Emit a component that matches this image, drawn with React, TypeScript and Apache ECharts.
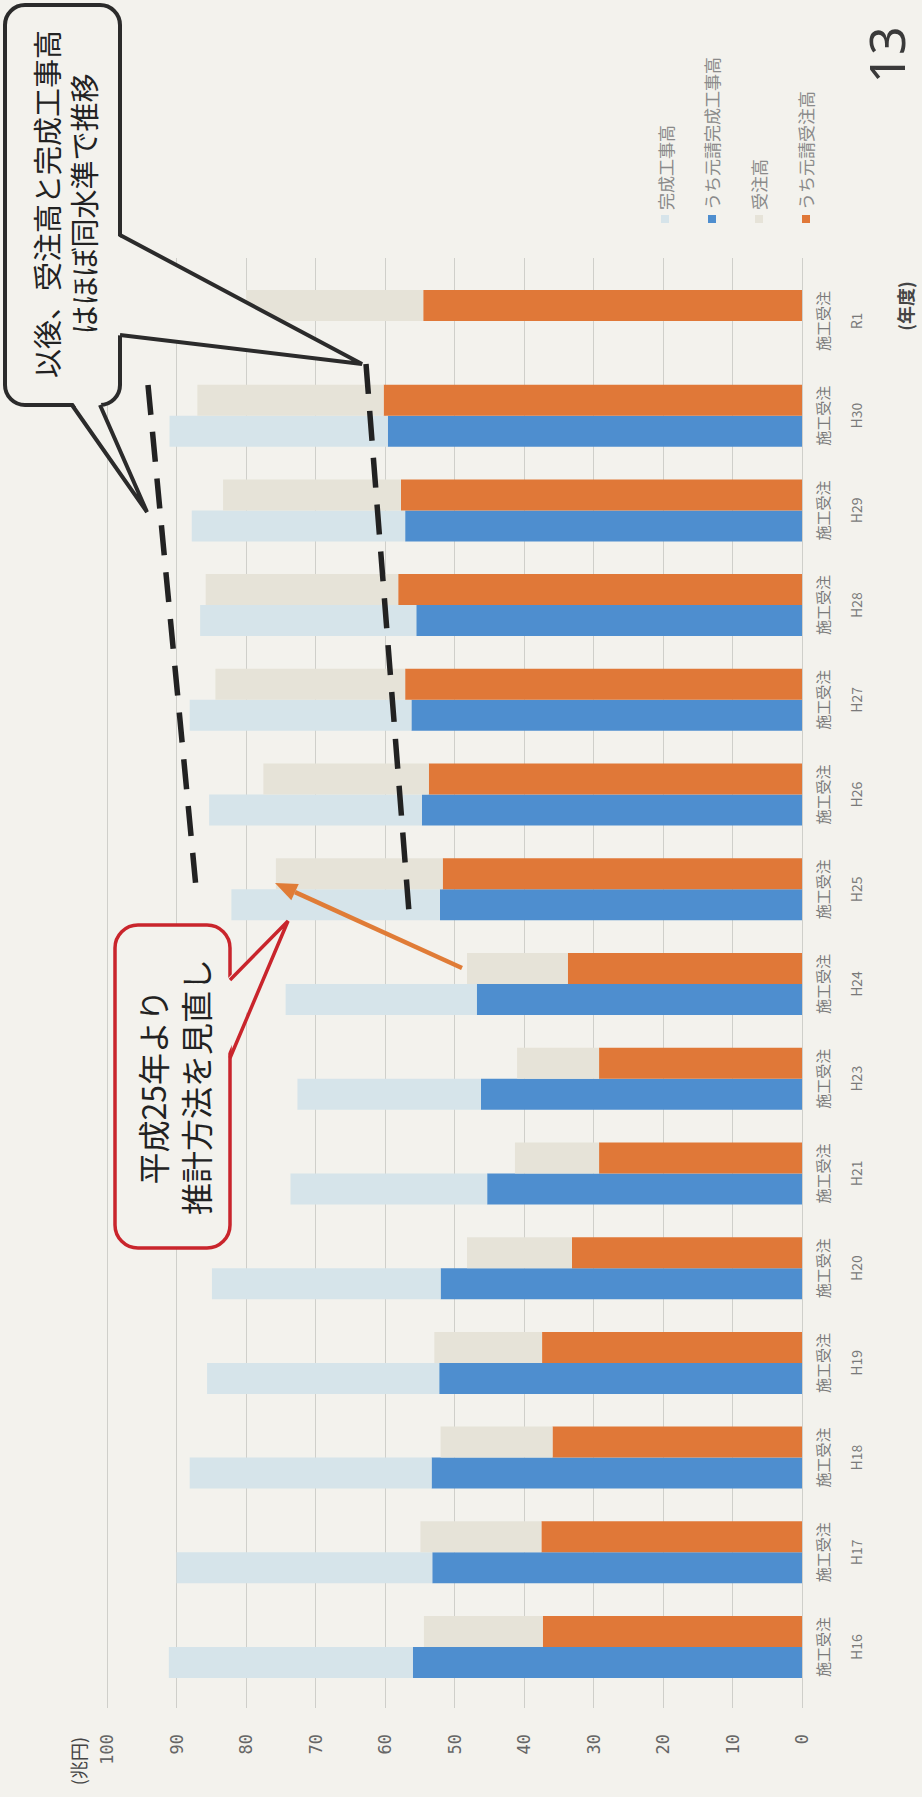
import React, { useEffect, useRef } from 'react';
import * as echarts from 'echarts';

// ---- data ----
const categories = ['H16', 'H17', 'H18', 'H19', 'H20', 'H21', 'H23', 'H24', 'H25', 'H26', 'H27', 'H28', 'H29', 'H30', 'R1'];
const completedTotal = [91.1, 90.0, 88.1, 85.6, 84.9, 73.6, 72.6, 74.3, 82.1, 85.3, 88.1, 86.6, 87.8, 91.0, null];
const completedPrime = [56.0, 53.2, 53.3, 52.2, 52.0, 45.3, 46.2, 46.8, 52.1, 54.7, 56.2, 55.5, 57.1, 59.6, null];
const ordersTotal = [54.4, 54.9, 52.0, 52.9, 48.2, 41.3, 41.0, 48.2, 75.7, 77.5, 84.4, 85.8, 83.3, 87.0, 80.0];
const ordersPrime = [37.3, 37.5, 35.9, 37.4, 33.1, 29.2, 29.2, 33.7, 51.7, 53.7, 57.1, 58.1, 57.7, 60.2, 54.5];
const legendNames = ['完成工事高', 'うち元請完成工事高', '受注高', 'うち元請受注高'];
const subLabel = '施工受注';

const W = 922;
const H = 1797;
const BG = '#f3f2ed';
const C_LIGHTBLUE = '#d6e4ea';
const C_BLUE = '#4e8ecf';
const C_BEIGE = '#e6e3d8';
const C_ORANGE = '#e07838';

const diff = (tot: (number | null)[], part: (number | null)[]) =>
  tot.map((t, i) => (t == null || part[i] == null ? null : +(t - (part[i] as number)).toFixed(1)));

function buildOption() {
  const font = "'Noto Sans CJK JP', 'Noto Sans', sans-serif";
  // annotation geometry (inner, un-rotated coordinates)
  const arrowTip = [914, 275];
  const arrowStart = [829, 462];
  const dx = arrowTip[0] - arrowStart[0];
  const dy = arrowTip[1] - arrowStart[1];
  const len = Math.sqrt(dx * dx + dy * dy);
  const ux = dx / len, uy = dy / len;
  const hl = 22, hw = 9;
  const bx = arrowTip[0] - hl * ux, by = arrowTip[1] - hl * uy;
  const px = -uy, py = ux;
  const Z = 100;

  return {
    animation: false,
    backgroundColor: BG,
    textStyle: { fontFamily: font },
    legend: {
      orient: 'vertical',
      left: 1574,
      top: 656.5,
      padding: 0,
      itemGap: 30,
      itemWidth: 8,
      itemHeight: 8,
      icon: 'rect',
      data: legendNames,
      textStyle: { fontSize: 17, color: '#8a8a8a', fontFamily: font },
    },
    grid: [
      { left: 102.6, right: 273.6, top: 107, bottom: 120 },
      { left: 89, right: 258, top: 107, bottom: 120 },
    ],
    xAxis: [
      {
        type: 'category',
        gridIndex: 0,
        data: categories,
        axisLine: { show: false },
        axisTick: { show: false },
        axisLabel: {
          interval: 0,
          margin: 3,
          color: '#7a7a7a',
          formatter: (v: string) => `{a|${subLabel}}\n{b|${v}}`,
          rich: {
            a: { fontSize: 15, lineHeight: 34, color: '#7a7a7a', fontFamily: font },
            b: { fontSize: 14, lineHeight: 34, color: '#7a7a7a', fontFamily: font },
          },
        },
      },
      { type: 'value', gridIndex: 1, min: 0, max: 1, show: false },
    ],
    yAxis: [
      { type: 'value', gridIndex: 0, min: 0, max: 100, interval: 10, show: false },
      {
        type: 'value',
        gridIndex: 1,
        min: 0,
        max: 100,
        interval: 10,
        axisLine: { show: false },
        axisTick: { show: false },
        splitLine: { show: true, lineStyle: { color: '#cfcfca', width: 1 } },
        axisLabel: { margin: 26, fontSize: 17, color: '#666', fontFamily: "'DejaVu Sans Mono', monospace" },
      },
    ],
    series: [
      {
        name: 'うち元請完成工事高',
        type: 'bar',
        stack: 'kansei',
        barWidth: 31,
        barGap: '0%',
        itemStyle: { color: C_BLUE },
        data: completedPrime,
      },
      {
        name: '完成工事高',
        type: 'bar',
        stack: 'kansei',
        barWidth: 31,
        barGap: '0%',
        itemStyle: { color: C_LIGHTBLUE },
        data: diff(completedTotal, completedPrime),
      },
      {
        name: 'うち元請受注高',
        type: 'bar',
        stack: 'juchu',
        barWidth: 31,
        barGap: '0%',
        itemStyle: { color: C_ORANGE },
        data: ordersPrime,
      },
      {
        name: '受注高',
        type: 'bar',
        stack: 'juchu',
        barWidth: 31,
        barGap: '0%',
        itemStyle: { color: C_BEIGE },
        data: diff(ordersTotal, ordersPrime),
      },
    ],
    graphic: [
      // axis names and page number
      { type: 'text', z: Z, x: 60, y: 78, style: { text: '(兆円)', fontSize: 18, fill: '#444', align: 'right', verticalAlign: 'middle', fontFamily: font } },
      { type: 'text', z: Z, x: 1491, y: 905, style: { text: '(年度)', fontSize: 18, fontWeight: 'bold', fill: '#444', align: 'center', verticalAlign: 'middle', fontFamily: font } },
      { type: 'text', z: Z, x: 1742, y: 886, style: { text: '13', fontSize: 50, fill: '#3a3a3a', align: 'center', verticalAlign: 'middle', fontFamily: "'Noto Sans', sans-serif" } },
      // dashed trend lines
      { type: 'line', z: Z, shape: { x1: 1412, y1: 148, x2: 899, y2: 197 }, style: { stroke: '#222', lineWidth: 5.5, lineDash: [30, 17] } },
      { type: 'line', z: Z, shape: { x1: 1433, y1: 366, x2: 872, y2: 410 }, style: { stroke: '#222', lineWidth: 5.5, lineDash: [30, 17] } },
      // black callout
      { type: 'rect', z: Z, shape: { x: 1392, y: 5, width: 400, height: 115, r: 20 }, style: { fill: BG, stroke: '#2b2b2b', lineWidth: 4 } },
      { type: 'polygon', z: Z, shape: { points: [[1562, 116], [1433, 362], [1462, 116]] }, style: { fill: BG } },
      { type: 'polyline', z: Z, shape: { points: [[1562, 120], [1433, 362], [1462, 120]] }, style: { stroke: '#2b2b2b', lineWidth: 4, fill: null } },
      { type: 'polygon', z: Z, shape: { points: [[1396, 72], [1285, 147], [1396, 100]] }, style: { fill: BG } },
      { type: 'polyline', z: Z, shape: { points: [[1392, 72], [1285, 147], [1392, 100]] }, style: { stroke: '#2b2b2b', lineWidth: 4, fill: null } },
      { type: 'text', z: Z, x: 1593, y: 64.5, style: { text: '以後、受注高と完成工事高\nはほぼ同水準で推移', fontSize: 29, lineHeight: 37, fill: '#222', align: 'center', verticalAlign: 'middle', fontFamily: font } },
      // red callout
      { type: 'rect', z: Z, shape: { x: 549, y: 115, width: 323, height: 115, r: 23 }, style: { fill: BG, stroke: '#c9252c', lineWidth: 3.5 } },
      { type: 'polygon', z: Z, shape: { points: [[817, 226], [876, 288], [739, 226]] }, style: { fill: BG } },
      { type: 'polyline', z: Z, shape: { points: [[817, 230], [876, 288], [739, 230]] }, style: { stroke: '#c9252c', lineWidth: 3.5, fill: null } },
      { type: 'text', z: Z, x: 710, y: 173.5, style: { text: '平成25年より\n推計方法を見直し', fontSize: 32, lineHeight: 43, fill: '#222', align: 'center', verticalAlign: 'middle', fontFamily: font } },
      // orange arrow
      { type: 'line', z: Z, shape: { x1: arrowStart[0], y1: arrowStart[1], x2: bx, y2: by }, style: { stroke: '#e07c37', lineWidth: 4.5 } },
      { type: 'polygon', z: Z, shape: { points: [arrowTip, [bx + hw * px, by + hw * py], [bx - hw * px, by - hw * py]] }, style: { fill: '#e07c37' } },
    ],
  };
}

export default function App() {
  const ref = useRef<HTMLDivElement>(null);
  useEffect(() => {
    if (!ref.current) return;
    const chart = echarts.init(ref.current, null, { renderer: 'svg' });
    chart.setOption(buildOption() as any);
    return () => chart.dispose();
  }, []);
  return (
    <div style={{ position: 'absolute', left: 0, top: 0, width: W, height: H, overflow: 'hidden', background: BG }}>
      <div
        ref={ref}
        style={{
          position: 'absolute',
          left: 0,
          top: 0,
          width: H,
          height: W,
          transformOrigin: '0 0',
          transform: `translateY(${H}px) rotate(-90deg)`,
        }}
      />
    </div>
  );
}
